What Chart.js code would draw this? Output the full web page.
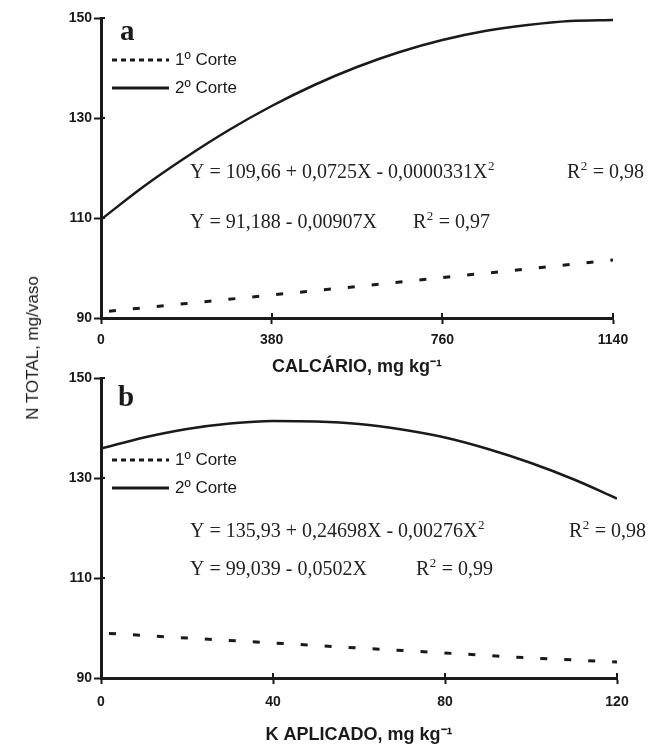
<!DOCTYPE html>
<html>
<head>
<meta charset="utf-8">
<script src="https://cdn.jsdelivr.net/npm/chart.js@4.4.1/dist/chart.umd.min.js"></script>
<style>
	body { margin: 0; background: #fff; }
	#wrap { position: relative; width: 663px; height: 744px; overflow: hidden; }
	#chartA { position: absolute; left: 0; top: 0; }
	#chartB { position: absolute; left: 0; top: 360px; }
	#ytitle {
		position: absolute; left: 33px; top: 348px;
		transform: translate(-50%, -50%) rotate(-90deg);
		font: 17px "Liberation Sans", Arial, sans-serif; color: #1a1a1a; white-space: nowrap;
	}
</style>
</head>
<body>
<div id="wrap">
	<canvas id="chartA" width="663" height="376"></canvas>
	<canvas id="chartB" width="663" height="384"></canvas>
	<div id="ytitle">N TOTAL, mg/vaso</div>
</div>
<script>
// panel a - calcario
var calcX2 = [0, 95, 190, 285, 380, 475, 570, 665, 760, 855, 950, 1045, 1140];
var calcCorte2 = [109.7, 116.3, 122.2, 127.6, 132.4, 136.6, 140.2, 143.2, 145.6, 147.4, 148.6, 149.4, 149.6];
var calcX1 = [0, 190, 380, 570, 760, 950, 1140];
var calcCorte1 = [91.2, 92.9, 94.6, 96.3, 98.1, 99.8, 101.6];
var calcTicks = [0, 380, 760, 1140];

// panel b - K aplicado
var kX2 = [0, 10, 20, 30, 40, 50, 60, 70, 80, 90, 100, 110, 120];
var kCorte2 = [135.9, 138.1, 139.8, 140.9, 141.4, 141.3, 140.8, 139.7, 138.1, 135.8, 133.0, 129.7, 125.9];
var kX1 = [0, 20, 40, 60, 80, 100, 120];
var kCorte1 = [99.0, 98.0, 97.0, 96.0, 95.0, 94.0, 93.2];
var kTicks = [0, 40, 80, 120];

var yTicks = [90, 110, 130, 150];
var legendLabels = ['1º Corte', '2º Corte'];

function pts(xs, ys) {
	return xs.map(function (x, i) { return { x: x, y: ys[i] }; });
}

var ink = '#1a1a1a';
var eqFont = '20px "Liberation Serif", serif';
var supFont = '13px "Liberation Serif", serif';

// text where "^2" is drawn as a raised small 2
function supText(ctx, str, x, y) {
	var parts = str.split('^2');
	parts.forEach(function (p, i) {
		ctx.font = eqFont;
		ctx.fillText(p, x, y);
		x += ctx.measureText(p).width;
		if (i < parts.length - 1) {
			ctx.font = supFont;
			ctx.fillText('2', x + 0.5, y - 8);
			x += ctx.measureText('2').width + 1;
		}
	});
}

/* letter, legend and equations drawn on top of each panel */
var notesPlugin = {
	id: 'notes',
	afterDraw: function (chart, args, o) {
		var ctx = chart.ctx;
		var ca = chart.chartArea;
		ctx.save();
		// small inner stubs so the ticks cross the axis
		ctx.strokeStyle = ink;
		ctx.lineWidth = 2;
		var xs = chart.scales.x, ys = chart.scales.y;
		xs.ticks.forEach(function (t) {
			var px = Math.round(xs.getPixelForValue(t.value));
			ctx.beginPath(); ctx.moveTo(px, ca.bottom); ctx.lineTo(px, ca.bottom - 5); ctx.stroke();
		});
		ys.ticks.forEach(function (t) {
			var py = Math.round(ys.getPixelForValue(t.value));
			ctx.beginPath(); ctx.moveTo(ca.left, py); ctx.lineTo(ca.left + 4, py); ctx.stroke();
		});

		ctx.fillStyle = ink;
		ctx.font = 'bold 29px "Liberation Serif", serif';
		ctx.textBaseline = 'alphabetic';
		ctx.fillText(o.letter, o.letterX, o.letterY);

		// legend
		ctx.lineWidth = 3;
		ctx.setLineDash([5, 4]);
		ctx.beginPath(); ctx.moveTo(112, o.legY[0]); ctx.lineTo(169, o.legY[0]); ctx.stroke();
		ctx.setLineDash([]);
		ctx.beginPath(); ctx.moveTo(112, o.legY[1]); ctx.lineTo(169, o.legY[1]); ctx.stroke();
		ctx.font = '17px "Liberation Sans", Arial, sans-serif';
		ctx.textBaseline = 'middle';
		ctx.fillText(legendLabels[0], 175, o.legY[0]);
		ctx.fillText(legendLabels[1], 175, o.legY[1]);

		// equations
		ctx.fillStyle = '#222';
		ctx.textBaseline = 'alphabetic';
		o.eqs.forEach(function (e) {
			supText(ctx, e.text, 190, e.y);
			supText(ctx, e.r2, e.rx, e.y);
		});
		ctx.restore();
	}
};

function makeOptions(xTicks, xTitle, xHeight, tickPad, padRight, notes) {
	return {
		responsive: false,
		animation: false,
		devicePixelRatio: 1,
		layout: { padding: { top: 18, right: padRight, bottom: 0, left: 0 } },
		plugins: {
			legend: { display: false },
			tooltip: { enabled: false },
			notes: notes
		},
		elements: { point: { radius: 0 } },
		scales: {
			x: {
				type: 'linear',
				min: xTicks[0],
				max: xTicks[xTicks.length - 1],
				afterFit: function (s) { s.height = xHeight; },
				afterBuildTicks: function (s) {
					s.ticks = xTicks.map(function (v) { return { value: v }; });
				},
				grid: { drawOnChartArea: false, tickLength: 6, tickWidth: 2, tickColor: ink },
				border: { display: true, width: 3, color: ink },
				ticks: {
					padding: tickPad,
					color: '#1a1a1a',
					maxRotation: 0,
					callback: function (v) { return String(v); },
					font: { family: '"Liberation Sans", Arial, sans-serif', size: 14, weight: 'bold' }
				},
				title: {
					display: true,
					text: xTitle,
					color: '#1a1a1a',
					padding: { top: 0, bottom: 0 },
					font: { family: '"Liberation Sans", Arial, sans-serif', size: 18, weight: 'bold', lineHeight: 1 }
				}
			},
			y: {
				min: 90,
				max: 150,
				afterFit: function (s) { s.width = 101; },
				afterBuildTicks: function (s) {
					s.ticks = yTicks.map(function (v) { return { value: v }; });
				},
				grid: { drawOnChartArea: false, tickLength: 7, tickWidth: 2, tickColor: ink },
				border: { display: true, width: 3, color: ink },
				ticks: {
					padding: 2,
					color: '#1a1a1a',
					font: { family: '"Liberation Sans", Arial, sans-serif', size: 14, weight: 'bold' }
				}
			}
		}
	};
}

function makeData(x1, y1, x2, y2) {
	return {
		datasets: [{
			label: legendLabels[0],
			data: pts(x1, y1),
			borderColor: ink,
			borderWidth: 3,
			borderDash: [7, 17],
			borderDashOffset: -8,
			fill: false
		}, {
			label: legendLabels[1],
			data: pts(x2, y2),
			borderColor: ink,
			borderWidth: 2.5,
			cubicInterpolationMode: 'monotone',
			fill: false
		}]
	};
}

var chartA = new Chart(document.getElementById('chartA').getContext('2d'), {
	type: 'line',
	data: makeData(calcX1, calcCorte1, calcX2, calcCorte2),
	options: makeOptions(calcTicks, 'CALCÁRIO, mg kg⁻¹', 58, 8, 50, {
		letter: 'a', letterX: 120, letterY: 40,
		legY: [60, 88],
		eqs: [
			{ text: 'Y = 109,66 + 0,0725X - 0,0000331X^2', y: 178, r2: 'R^2 = 0,98', rx: 567 },
			{ text: 'Y = 91,188 - 0,00907X', y: 228, r2: 'R^2 = 0,97', rx: 413 }
		]
	}),
	plugins: [notesPlugin]
});

var chartB = new Chart(document.getElementById('chartB').getContext('2d'), {
	type: 'line',
	data: makeData(kX1, kCorte1, kX2, kCorte2),
	options: makeOptions(kTicks, 'K APLICADO, mg kg⁻¹', 66, 10, 46, {
		letter: 'b', letterX: 118, letterY: 46,
		legY: [100, 128],
		eqs: [
			{ text: 'Y = 135,93 + 0,24698X - 0,00276X^2', y: 177, r2: 'R^2 = 0,98', rx: 569 },
			{ text: 'Y = 99,039 - 0,0502X', y: 215, r2: 'R^2 = 0,99', rx: 416 }
		]
	}),
	plugins: [notesPlugin]
});
</script>
</body>
</html>
